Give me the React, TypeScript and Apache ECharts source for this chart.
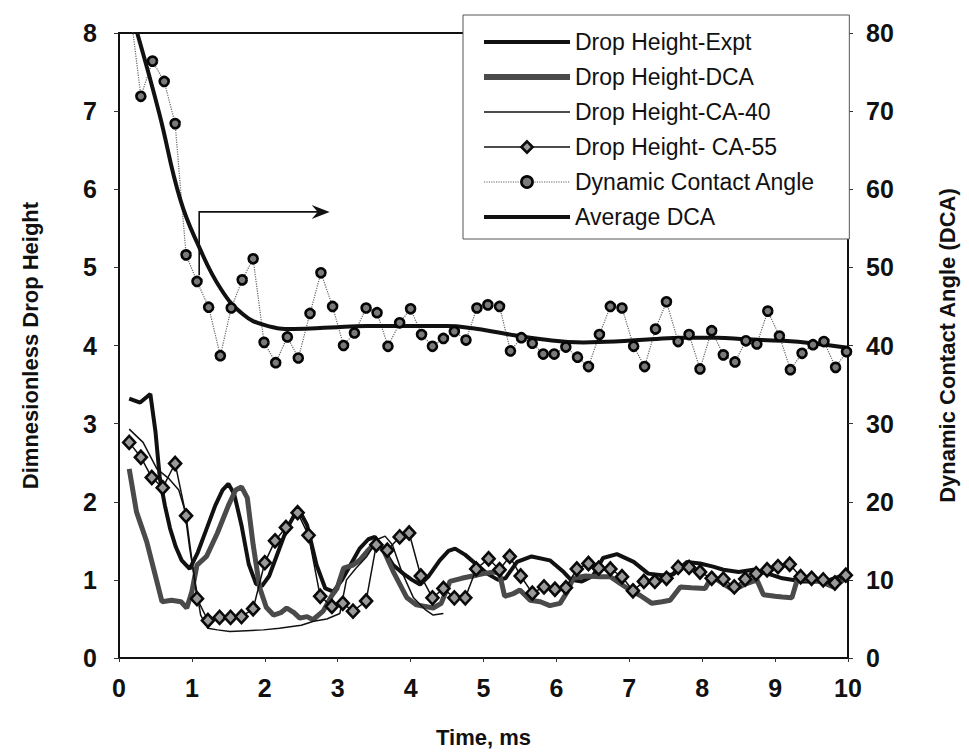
import React, { useEffect, useRef } from "react";
import * as echarts from "echarts";

// Drop Height-Expt (measured)
const exptTime = [0.14, 0.29, 0.43, 0.5, 0.56, 0.63, 0.7, 0.78, 0.86, 0.97, 1.08, 1.2, 1.32, 1.42, 1.5, 1.58, 1.68, 1.78, 1.88, 1.96, 2.06, 2.18, 2.3, 2.4, 2.48, 2.58, 2.71, 2.83, 2.94, 3.06, 3.18, 3.3, 3.42, 3.51, 3.62, 3.76, 3.9, 4.02, 4.13, 4.25, 4.4, 4.52, 4.61, 4.75, 4.9, 5.05, 5.2, 5.3, 5.46, 5.66, 5.91, 6.1, 6.2, 6.35, 6.5, 6.64, 6.83, 7.06, 7.26, 7.45, 7.6, 7.79, 7.97, 8.15, 8.29, 8.5, 8.7, 8.9, 9.1, 9.38, 9.55, 9.75, 10.0];
const exptHeight = [3.32, 3.27, 3.38, 2.9, 2.3, 1.95, 1.66, 1.42, 1.25, 1.14, 1.35, 1.65, 1.95, 2.15, 2.23, 2.1, 1.7, 1.2, 0.95, 0.92, 1.05, 1.35, 1.65, 1.82, 1.88, 1.7, 1.19, 0.89, 0.85, 1.0, 1.2, 1.4, 1.52, 1.55, 1.4, 1.19, 1.08, 1.0, 0.94, 1.05, 1.25, 1.37, 1.4, 1.32, 1.2, 1.08, 1.0, 1.02, 1.23, 1.3, 1.25, 1.1, 1.0, 0.98, 1.05, 1.28, 1.33, 1.23, 1.08, 1.06, 1.07, 1.23, 1.21, 1.17, 1.13, 1.1, 1.13, 1.08, 1.02, 0.98, 0.98, 1.0, 1.08];

// Drop Height-DCA (simulation with dynamic contact angle)
const dcaTime = [0.14, 0.24, 0.38, 0.5, 0.59, 0.72, 0.85, 0.93, 1.0, 1.07, 1.2, 1.35, 1.5, 1.6, 1.68, 1.76, 1.84, 1.93, 2.02, 2.12, 2.22, 2.3, 2.4, 2.48, 2.58, 2.66, 2.8, 2.92, 2.99, 3.08, 3.21, 3.3, 3.4, 3.53, 3.62, 3.76, 3.95, 4.08, 4.2, 4.31, 4.42, 4.54, 4.7, 4.85, 5.0, 5.15, 5.22, 5.29, 5.4, 5.5, 5.64, 5.78, 5.91, 6.05, 6.15, 6.23, 6.4, 6.6, 6.74, 6.88, 7.01, 7.15, 7.31, 7.45, 7.56, 7.7, 7.85, 8.04, 8.13, 8.24, 8.34, 8.43, 8.6, 8.75, 8.84, 9.0, 9.1, 9.23, 9.31, 9.45, 9.62, 9.8, 10.0];
const dcaHeight = [2.42, 1.87, 1.49, 1.05, 0.72, 0.74, 0.72, 0.64, 0.85, 1.19, 1.3, 1.6, 1.95, 2.15, 2.19, 2.05, 1.45, 0.9, 0.65, 0.55, 0.58, 0.64, 0.58, 0.51, 0.53, 0.49, 0.6, 0.8, 0.89, 1.15, 1.19, 1.25, 1.36, 1.49, 1.4, 1.11, 0.77, 0.68, 0.66, 0.64, 0.7, 0.98, 1.02, 1.05, 1.08, 1.1, 1.08, 0.79, 0.82, 0.87, 0.74, 0.72, 0.67, 0.7, 0.85, 1.02, 1.05, 1.04, 1.04, 0.95, 0.87, 0.8, 0.7, 0.72, 0.74, 0.91, 0.9, 0.89, 1.04, 0.98, 0.92, 0.87, 0.95, 1.0, 0.81, 0.79, 0.78, 0.77, 1.02, 1.0, 0.98, 0.91, 1.04];

// Drop Height-CA-40 (static contact angle 40 deg)
const ca40Time = [0.14, 0.33, 0.52, 0.68, 0.82, 0.9, 0.97, 1.04, 1.12, 1.22, 1.35, 1.52, 1.75, 1.98, 2.2, 2.35, 2.5, 2.67, 2.85, 3.03, 3.12, 3.25, 3.4, 3.55, 3.65, 3.75, 3.88, 4.04, 4.2, 4.31, 4.45];
const ca40Height = [2.93, 2.76, 2.42, 2.3, 2.15, 1.9, 1.4, 1.0, 0.55, 0.38, 0.36, 0.34, 0.35, 0.36, 0.38, 0.4, 0.42, 0.47, 0.5, 0.57, 1.0, 1.15, 1.3, 1.52, 1.56, 1.45, 1.1, 0.77, 0.62, 0.55, 0.57];

// Drop Height- CA-55 (static contact angle 55 deg)
const ca55Time = [0.14, 0.3, 0.45, 0.6, 0.77, 0.92, 1.07, 1.22, 1.38, 1.53, 1.68, 1.84, 2.0, 2.14, 2.29, 2.45, 2.6, 2.76, 2.92, 3.07, 3.21, 3.39, 3.53, 3.68, 3.85, 3.98, 4.14, 4.3, 4.45, 4.6, 4.75, 4.9, 5.07, 5.22, 5.36, 5.51, 5.67, 5.83, 5.98, 6.13, 6.28, 6.44, 6.58, 6.74, 6.9, 7.05, 7.2, 7.35, 7.51, 7.67, 7.82, 7.97, 8.13, 8.29, 8.44, 8.59, 8.74, 8.89, 9.04, 9.2, 9.35, 9.5, 9.66, 9.82, 9.97];
const ca55Height = [2.76, 2.57, 2.31, 2.18, 2.49, 1.82, 0.76, 0.48, 0.52, 0.52, 0.53, 0.63, 1.22, 1.5, 1.67, 1.86, 1.57, 0.79, 0.66, 0.7, 0.6, 0.73, 1.45, 1.38, 1.55, 1.6, 1.05, 0.77, 0.89, 0.77, 0.77, 1.14, 1.27, 1.13, 1.3, 1.05, 0.83, 0.91, 0.88, 0.9, 1.14, 1.21, 1.15, 1.14, 1.04, 0.86, 0.98, 0.98, 1.02, 1.16, 1.16, 1.1, 1.02, 1.01, 0.91, 1.01, 1.08, 1.13, 1.17, 1.2, 1.04, 1.02, 1.0, 0.96, 1.06];

// Dynamic Contact Angle, degrees (right axis)
const angleTime = [0.15, 0.3, 0.46, 0.62, 0.77, 0.92, 1.07, 1.23, 1.39, 1.54, 1.69, 1.84, 1.99, 2.15, 2.31, 2.46, 2.62, 2.77, 2.93, 3.08, 3.23, 3.39, 3.54, 3.69, 3.85, 4.0, 4.15, 4.3, 4.45, 4.6, 4.76, 4.91, 5.06, 5.22, 5.37, 5.52, 5.67, 5.82, 5.97, 6.13, 6.29, 6.44, 6.59, 6.74, 6.9, 7.06, 7.21, 7.36, 7.51, 7.67, 7.82, 7.97, 8.13, 8.29, 8.45, 8.6, 8.75, 8.9, 9.06, 9.21, 9.37, 9.52, 9.67, 9.83, 9.98];
const angleValue = [83.2, 71.9, 76.4, 73.8, 68.4, 51.6, 48.2, 44.9, 38.7, 44.8, 48.4, 51.1, 40.4, 37.8, 41.1, 38.4, 44.1, 49.3, 45.0, 40.0, 41.6, 44.8, 44.2, 39.9, 42.9, 44.7, 41.4, 39.9, 40.9, 41.8, 40.7, 44.8, 45.2, 45.0, 39.3, 41.0, 40.3, 38.9, 38.9, 39.8, 38.5, 37.3, 41.4, 45.0, 44.8, 39.9, 37.3, 42.1, 45.6, 40.5, 41.4, 37.0, 41.9, 38.8, 37.9, 40.6, 40.2, 44.4, 41.2, 36.9, 39.0, 40.1, 40.5, 37.2, 39.2];

// Average DCA, degrees (right axis)
const avgTime = [0.25, 0.55, 0.84, 1.1, 1.4, 1.7, 2.0, 2.4, 2.9, 3.4, 4.0, 4.5, 4.85, 5.3, 5.8, 6.37, 6.8, 7.3, 7.74, 8.2, 8.6, 9.1, 9.5, 10.0];
const avgValue = [80, 69.8, 58.7, 52.6, 47.2, 44.0, 42.6, 42.1, 42.3, 42.5, 42.5, 42.5, 42.2, 41.5, 40.8, 40.4, 40.5, 40.8, 41.0, 41.0, 40.8, 40.6, 40.3, 39.7];

const pairs = (t: number[], v: number[]) => t.map((x, i) => [x, v[i]]);

const FONT = "'Liberation Sans', Arial, sans-serif";
const HIDE_SYMBOL = { opacity: 0 };
const DIAMOND_STYLE = { color: "#9a9a9a", borderColor: "#0a0a0a", borderWidth: 2.6 };
const CIRCLE_STYLE = { color: "#7a7a7a", borderColor: "#050505", borderWidth: 2.6 };

export default function App() {
  const ref = useRef<HTMLDivElement>(null);

  useEffect(() => {
    document.body.style.margin = "0";
    const chart = echarts.init(ref.current!, null, { renderer: "svg" });

    const axisLabel = { fontFamily: FONT, fontSize: 25, fontWeight: "bold", color: "#111" };
    const axisName = { fontFamily: FONT, fontSize: 22, fontWeight: "bold", color: "#111" };

    chart.setOption({
      animation: false,
      backgroundColor: "#fff",
      grid: { left: 119, right: 121, top: 33, bottom: 93, show: true, borderColor: "#111", borderWidth: 2 },
      xAxis: {
        type: "value",
        min: 0,
        max: 10,
        interval: 1,
        name: "Time, ms",
        nameLocation: "middle",
        nameGap: 68,
        nameTextStyle: axisName,
        axisLine: { lineStyle: { color: "#111", width: 2 } },
        axisTick: { show: true, inside: false, length: 4, lineStyle: { color: "#333" } },
        axisLabel: { ...axisLabel, margin: 17 },
        splitLine: { show: false },
      },
      yAxis: [
        {
          type: "value",
          min: 0,
          max: 8,
          interval: 1,
          name: "Dimnesionless Drop Height",
          nameLocation: "middle",
          nameRotate: 90,
          nameGap: 78,
          nameTextStyle: axisName,
          axisLine: { show: true, lineStyle: { color: "#111", width: 2 } },
          axisTick: { show: true, inside: false, length: 5, lineStyle: { color: "#333" } },
          axisLabel: { ...axisLabel, margin: 22 },
          splitLine: { show: false },
        },
        {
          type: "value",
          min: 0,
          max: 80,
          interval: 10,
          position: "right",
          name: "Dynamic Contact Angle (DCA)",
          nameLocation: "middle",
          nameRotate: 90,
          nameGap: 88,
          nameTextStyle: axisName,
          axisLine: { show: true, lineStyle: { color: "#111", width: 2 } },
          axisTick: { show: true, inside: false, length: 5, lineStyle: { color: "#333" } },
          axisLabel: { ...axisLabel, margin: 18 },
          splitLine: { show: false },
        },
      ],
      legend: {
        orient: "vertical",
        left: 463,
        top: 15,
        padding: [14, 34, 9, 18],
        itemWidth: 86,
        itemHeight: 14,
        itemGap: 9,
        borderColor: "#555",
        borderWidth: 1,
        backgroundColor: "#fff",
        textStyle: { fontFamily: FONT, fontSize: 23, color: "#111", lineHeight: 26 },
        data: [
          { name: "Drop Height-Expt", lineStyle: { width: 4, color: "#111" }, itemStyle: HIDE_SYMBOL },
          { name: "Drop Height-DCA", lineStyle: { width: 6, color: "#4a4a4a" }, itemStyle: HIDE_SYMBOL },
          { name: "Drop Height-CA-40", lineStyle: { width: 1.5, color: "#111" }, itemStyle: HIDE_SYMBOL },
          { name: "Drop Height- CA-55", lineStyle: { width: 1.5, color: "#111" }, itemStyle: DIAMOND_STYLE },
          { name: "Dynamic Contact Angle", lineStyle: { width: 1.2, color: "#666", type: "dotted" }, itemStyle: CIRCLE_STYLE },
          { name: "Average DCA", lineStyle: { width: 4, color: "#111" }, itemStyle: HIDE_SYMBOL },
        ],
      },
      series: [
        {
          name: "Drop Height-Expt",
          type: "line",
          yAxisIndex: 0,
          data: pairs(exptTime, exptHeight),
          symbol: "none",
          lineStyle: { color: "#111", width: 4 },
          itemStyle: { color: "#111" },
        },
        {
          name: "Drop Height-DCA",
          type: "line",
          yAxisIndex: 0,
          data: pairs(dcaTime, dcaHeight),
          symbol: "none",
          lineStyle: { color: "#4a4a4a", width: 5 },
          itemStyle: { color: "#4a4a4a" },
        },
        {
          name: "Drop Height-CA-40",
          type: "line",
          yAxisIndex: 0,
          data: pairs(ca40Time, ca40Height),
          symbol: "none",
          lineStyle: { color: "#111", width: 1.5 },
          itemStyle: { color: "#111" },
        },
        {
          name: "Drop Height- CA-55",
          type: "line",
          yAxisIndex: 0,
          data: pairs(ca55Time, ca55Height),
          symbol: "diamond",
          symbolSize: [12, 13],
          lineStyle: { color: "#111", width: 1.5 },
          itemStyle: DIAMOND_STYLE,
        },
        {
          name: "Dynamic Contact Angle",
          type: "line",
          yAxisIndex: 1,
          data: pairs(angleTime, angleValue),
          symbol: "circle",
          symbolSize: 9,
          lineStyle: { color: "#666", width: 1.2, type: "dotted" },
          itemStyle: CIRCLE_STYLE,
        },
        {
          name: "Average DCA",
          type: "line",
          yAxisIndex: 1,
          data: pairs(avgTime, avgValue),
          symbol: "none",
          smooth: 0.45,
          lineStyle: { color: "#111", width: 4 },
          itemStyle: { color: "#111" },
        },
      ],
    });

    // Arrow pointing from the average-DCA curve towards the right-hand axis
    const base = chart.convertToPixel({ gridIndex: 0 }, [1.1, 4.9]) as number[];
    const corner = chart.convertToPixel({ gridIndex: 0 }, [1.1, 5.71]) as number[];
    const tip = chart.convertToPixel({ gridIndex: 0 }, [2.89, 5.71]) as number[];
    chart.setOption({
      graphic: [
        {
          type: "polyline",
          z: 10,
          shape: { points: [base, corner, [tip[0] - 8, tip[1]]] },
          style: { stroke: "#111", lineWidth: 1.6, fill: "none" },
        },
        {
          type: "polygon",
          z: 10,
          shape: {
            points: [
              [tip[0] - 18, tip[1] - 7],
              [tip[0], tip[1]],
              [tip[0] - 18, tip[1] + 7],
              [tip[0] - 12, tip[1]],
            ],
          },
          style: { fill: "#111" },
        },
      ],
    });

    return () => chart.dispose();
  }, []);

  return <div ref={ref} style={{ width: 969, height: 753 }} />;
}
